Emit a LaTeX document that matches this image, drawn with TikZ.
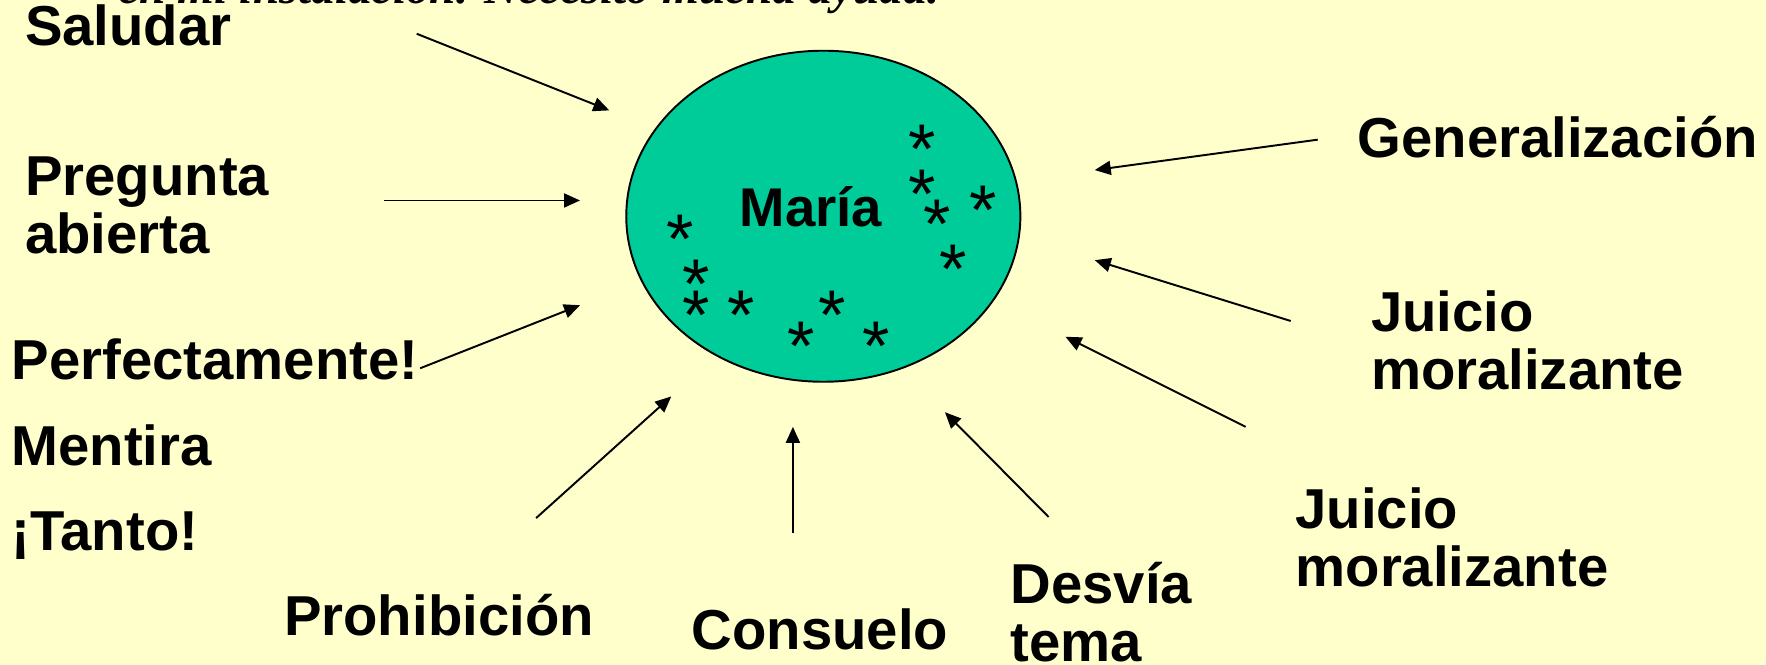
\documentclass[tikz,border=0pt]{standalone}
\usepackage{fontspec}
\setmainfont{Liberation Sans}
\newfontfamily\captionserif{Liberation Serif}
\usetikzlibrary{shapes, arrows.meta, positioning}

\definecolor{paper}{HTML}{FFFFCC}
\definecolor{mariafill}{HTML}{00CC99}

\tikzset{
  lbl/.style={font=\fontsize{32}{33}\selectfont\bfseries, inner sep=0pt, anchor=base west, align=left},
  arr/.style={-{Triangle[length=3.2mm, width=2.8mm]}, line width=1.1pt},
  ast/.style={font=\fontsize{40}{40}\selectfont, inner sep=0pt, anchor=base},
}

\begin{document}
\begin{tikzpicture}[x=0.0225cm, y=-0.0225cm]

    % Background
    \useasboundingbox (0,0) rectangle (1568,590);
    \clip (0,0) rectangle (1568,590);
    \fill[paper] (0,0) rectangle (1568,590);

    % Caption cut off at the top
    \node[font=\captionserif\fontsize{27}{27}\selectfont\bfseries\itshape, inner sep=0pt, anchor=base west]
          (caption) at (105,3) {en mi instalación. Necesito mucha ayuda.};

    % Maria
    \node[ellipse, draw, line width=1.1pt, fill=mariafill, inner sep=0pt,
          minimum width=7.875cm, minimum height=6.615cm] (maria) at (731,192) {};
    \node[lbl, anchor=base, font=\fontsize{31}{32}\selectfont\bfseries] (nombre) at (720,201) {María};

    % Stars inside
    \foreach \sx/\sy in {819/118, 819/158, 873/172, 832/185, 846/225, 604/198,
                         618/238, 618/265, 658/265, 739/265, 711/293, 778/293}
        \node[ast] at (\sx,\sy+36) {*};

    % Left side
    \node[lbl] (saludar) at (22,40) {Saludar};
    \node[lbl] (pregunta) at (22,225) {Pregunta\\abierta};
    \node[lbl] (perfecto) at (10,337) {Perfectamente!};
    \node[lbl] (mentira) at (10,413) {Mentira};
    \node[lbl] (tanto) at (10,489) {¡Tanto!};

    % Bottom
    \node[lbl] (prohibicion) at (252,564) {Prohibición};
    \node[lbl] (consuelo) at (614,577) {Consuelo};
    \node[lbl] (desvia) at (897,587) {Desvía\\tema};

    % Right side
    \node[lbl] (general) at (1205,140) {Generalización};
    \node[lbl] (juicioa) at (1217,346) {Juicio\\moralizante};
    \node[lbl] (juiciob) at (1150,521) {Juicio\\moralizante};

    % Arrow ends
    \coordinate (saludar-t) at (370,30);    \coordinate (saludar-h) at (541,98);
    \coordinate (pregunta-t) at (341,178);  \coordinate (pregunta-h) at (515,178);
    \coordinate (perfecto-t) at (373,327);  \coordinate (perfecto-h) at (515,271);
    \coordinate (prohib-t) at (476,460);    \coordinate (prohib-h) at (596,352);
    \coordinate (consuelo-t) at (704,473);  \coordinate (consuelo-h) at (704,379);
    \coordinate (desvia-t) at (931,459);    \coordinate (desvia-h) at (839,366);
    \coordinate (juiciob-t) at (1106,379);  \coordinate (juiciob-h) at (946,299);
    \coordinate (juicioa-t) at (1146,285);  \coordinate (juicioa-h) at (972,231);
    \coordinate (general-t) at (1170,124);  \coordinate (general-h) at (972,151);

    % Arrows to Maria
    \draw[arr] (saludar-t) -- (saludar-h);
    \draw[arr] (pregunta-t) -- (pregunta-h);
    \draw[arr] (perfecto-t) -- (perfecto-h);
    \draw[arr] (prohib-t) -- (prohib-h);
    \draw[arr] (consuelo-t) -- (consuelo-h);
    \draw[arr] (desvia-t) -- (desvia-h);
    \draw[arr] (juiciob-t) -- (juiciob-h);
    \draw[arr] (juicioa-t) -- (juicioa-h);
    \draw[arr] (general-t) -- (general-h);

\end{tikzpicture}
\end{document}
